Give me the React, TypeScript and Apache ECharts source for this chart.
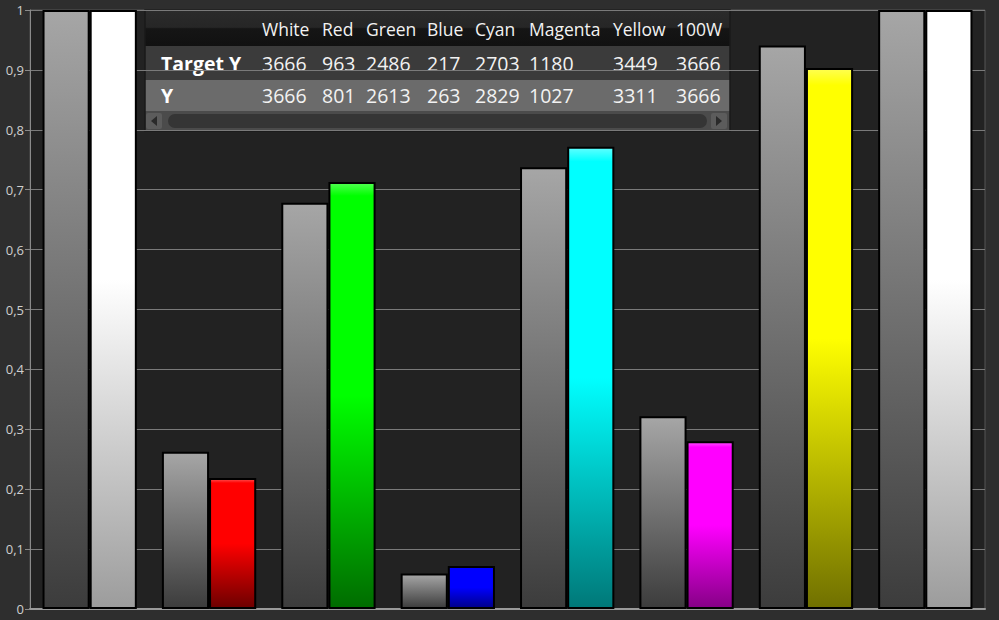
import * as echarts from "echarts";
import { useEffect, useRef } from "react";

// colour patches and their luminance (cd/m²), target vs measured
const categories = ["White", "Red", "Green", "Blue", "Cyan", "Magenta", "Yellow", "100W"];
const targetY = [3666, 963, 2486, 217, 2703, 1180, 3449, 3666];
const measuredY = [3666, 801, 2613, 263, 2829, 1027, 3311, 3666];
const rowLabels = ["Target Y", "Y"];

// gradient per bar: [top highlight, main, dark bottom]
const barColors = [
  ["#ffffff", "#ffffff", "#9c9c9c"],
  ["#ff5050", "#ff0000", "#6c0000"],
  ["#50ff50", "#00ff00", "#006c00"],
  ["#5050ff", "#0000ff", "#000088"],
  ["#60ffff", "#00ffff", "#007878"],
  ["#ff50ff", "#ff00ff", "#860086"],
  ["#ffff50", "#ffff00", "#707000"],
  ["#ffffff", "#ffffff", "#9c9c9c"],
];

const colX = [262, 322, 366, 427, 475, 529, 613, 676];
const FONT = "'Open Sans', 'Noto Sans', sans-serif";

const vgrad = (stops: [number, string][]) =>
  new echarts.graphic.LinearGradient(0, 0, 0, 1, stops.map(([offset, color]) => ({ offset, color })));

function buildTable(): any[] {
  const left = 145;
  const right = 730;
  const w = right - left;
  const els: any[] = [];
  els.push({
    type: "rect",
    shape: { x: left, y: 10, width: w, height: 36 },
    style: {
      fill: vgrad([
        [0, "#2b2b2b"],
        [0.48, "#262626"],
        [0.52, "#151515"],
        [1, "#111111"],
      ]),
    },
  });
  els.push({ type: "rect", shape: { x: left, y: 46, width: w, height: 34 }, style: { fill: "#3b3b3b" } });
  els.push({ type: "rect", shape: { x: left, y: 80, width: w, height: 31 }, style: { fill: "#6b6b6b" } });
  // scrollbar
  els.push({ type: "rect", shape: { x: left, y: 111, width: w, height: 20 }, style: { fill: "#4b4b4b" } });
  els.push({ type: "rect", shape: { x: 168, y: 114, width: 539, height: 14, r: 7 }, style: { fill: "#353535" } });
  els.push({ type: "rect", shape: { x: left + 1, y: 113, width: 16, height: 16, r: 2 }, style: { fill: "#5c5c5c" } });
  els.push({
    type: "polygon",
    shape: { points: [[157, 116], [157, 126], [151, 121]] },
    style: { fill: "#2a2a2a" },
  });
  els.push({ type: "rect", shape: { x: right - 19, y: 113, width: 16, height: 16, r: 2 }, style: { fill: "#5c5c5c" } });
  els.push({
    type: "polygon",
    shape: { points: [[716, 116], [716, 126], [722, 121]] },
    style: { fill: "#2a2a2a" },
  });
  // frame
  els.push({
    type: "rect",
    shape: { x: left, y: 10, width: w, height: 121 },
    style: { fill: "none", stroke: "#1a1a1a", lineWidth: 1.5 },
  });

  categories.forEach((c, i) => {
    els.push({
      type: "text",
      x: colX[i],
      y: 29,
      style: { text: c, fill: "#f2f2f2", font: `17.5px ${FONT}`, verticalAlign: "middle" },
    });
  });
  [targetY, measuredY].forEach((row, r) => {
    const y = r === 0 ? 63.5 : 95.5;
    els.push({
      type: "text",
      x: 161,
      y,
      style: { text: rowLabels[r], fill: "#ffffff", font: `bold 19.5px ${FONT}`, verticalAlign: "middle" },
    });
    row.forEach((v, i) => {
      els.push({
        type: "text",
        x: colX[i],
        y,
        style: { text: String(v), fill: "#f2f2f2", font: `19.5px ${FONT}`, verticalAlign: "middle" },
      });
    });
  });
  return els;
}

export default function App() {
  const chartRef = useRef<HTMLDivElement>(null);

  useEffect(() => {
    document.body.style.margin = "0";
    const chart = echarts.init(chartRef.current, null, { renderer: "svg" });
    const ref = targetY[0];

    const targetData = targetY.map((v) => ({
      value: v / ref,
      itemStyle: {
        color: vgrad([
          [0, "#a6a6a6"],
          [1, "#3c3c3c"],
        ]),
      },
    }));
    const measuredData = measuredY.map((v, i) => {
      const [hi, main, dark] = barColors[i];
      const isWhite = main === "#ffffff";
      return {
        value: v / ref,
        itemStyle: {
          color: vgrad(
            isWhite
              ? [
                  [0, hi],
                  [0.45, main],
                  [1, dark],
                ]
              : [
                  [0, hi],
                  [0.03, main],
                  [0.5, main],
                  [1, dark],
                ]
          ),
        },
      };
    });

    chart.setOption({
      animation: false,
      backgroundColor: "#2e2e2e",
      textStyle: { fontFamily: FONT },
      grid: {
        left: 30,
        right: 14,
        top: 10,
        bottom: 11,
        show: true,
        backgroundColor: "#222222",
        borderColor: "#555555",
        borderWidth: 1,
      },
      xAxis: {
        type: "category",
        data: categories,
        axisLabel: { show: false },
        axisTick: { show: false },
        axisLine: { lineStyle: { color: "#9a9a9a", width: 2 } },
        splitLine: { show: false },
      },
      yAxis: {
        type: "value",
        min: 0,
        max: 1,
        interval: 0.1,
        axisLabel: {
          color: "#cfcfcf",
          fontSize: 13,
          margin: 6,
          formatter: (v: number) => (v === 0 || v === 1 ? String(v) : v.toFixed(1).replace(".", ",")),
        },
        axisTick: { show: true, length: 5, lineStyle: { color: "#8a8a8a" } },
        axisLine: { show: true, lineStyle: { color: "#8a8a8a" } },
        splitLine: { lineStyle: { color: "#7a7a7a", width: 1 } },
      },
      series: [
        {
          name: "Target Y",
          type: "bar",
          data: targetData,
          barGap: "0%",
          barCategoryGap: "21%",
          itemStyle: { borderColor: "#000", borderWidth: 2 },
        },
        {
          name: "Y",
          type: "bar",
          data: measuredData,
          barGap: "0%",
          barCategoryGap: "21%",
          itemStyle: { borderColor: "#000", borderWidth: 2 },
        },
      ],
      graphic: [{ type: "group", z: 100, children: buildTable() }],
    });

    return () => chart.dispose();
  }, []);

  return <div ref={chartRef} style={{ width: 999, height: 620 }} />;
}
